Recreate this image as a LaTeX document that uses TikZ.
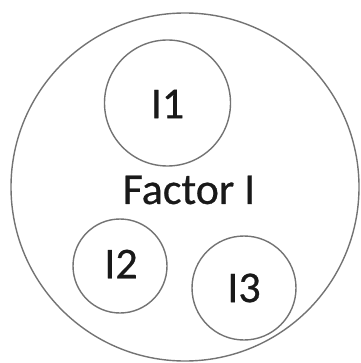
\documentclass[tikz,border=0pt]{standalone}
\usepackage{fontspec}
\setmainfont{Carlito}[FakeBold=0.6]
\begin{document}
\begin{tikzpicture}[x=1pt,y=-1pt,
  ring/.style={circle,draw=black!55,line width=1.4pt,inner sep=0pt},
  lbl/.style={font=\fontsize{44}{50}\selectfont,text=black!90}]
\useasboundingbox (0,0) rectangle (360,363);
\node[ring,minimum size=348pt] (outer) at (185,187) {};
\node[ring,minimum size=126pt] (i1) at (167.5,103) {};
\node[ring,minimum size=94pt] (i2) at (120,266) {};
\node[ring,minimum size=104pt] (i3) at (244,288) {};
\node[lbl] (t1) at (167.5,104) {I1};
\node[lbl] (t2) at (121,264) {I2};
\node[lbl] (t3) at (244,288) {I3};
\node[lbl] (tf) at (189,190) {Factor I};
\end{tikzpicture}
\end{document}
